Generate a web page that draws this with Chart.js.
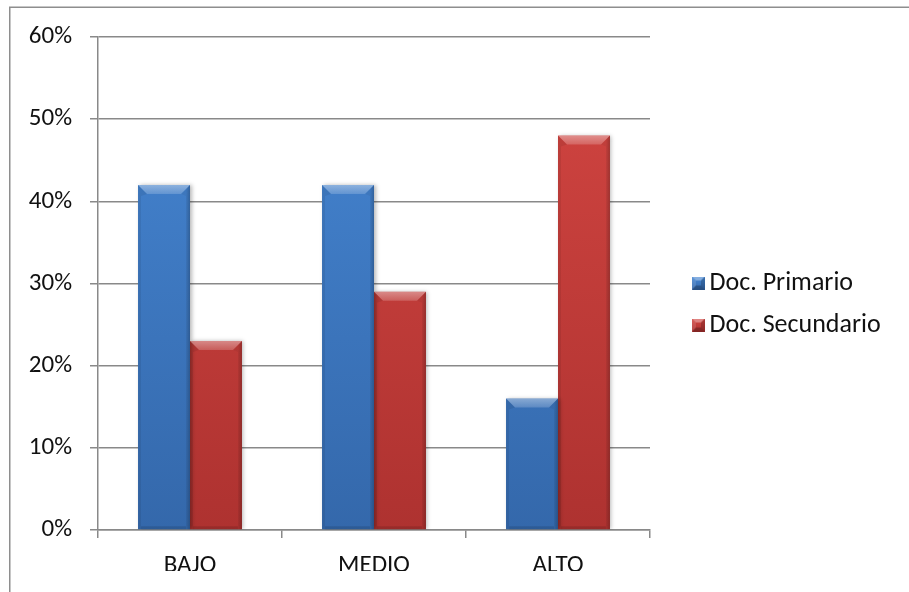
<!DOCTYPE html>
<html>
<head>
<meta charset="utf-8">
<script src="https://cdn.jsdelivr.net/npm/chart.js@4/dist/chart.umd.min.js"></script>
<style>
  html, body { margin: 0; padding: 0; background: #fff; }
  #wrap { width: 909px; height: 592px; position: relative; }
</style>
</head>
<body>
<div id="wrap"><canvas id="c" width="909" height="592"></canvas></div>
<script>
// ---- data ----
const categories = ['BAJO', 'MEDIO', 'ALTO'];
const seriesNames = ['Doc. Primario', 'Doc. Secundario'];
const primario = [42, 42, 16];
const secundario = [23, 29, 48];
const yTickValues = [0, 10, 20, 30, 40, 50, 60];

// ---- style ----
const FONT = 'Carlito, Lato, "Liberation Sans", sans-serif';
const FS = 25;
const LFS = 26;
const GRID = '#898989';
const LEG_PAD = 16;
const LEG_BOX = 1;

function makeGradient(chart, top, bottom) {
  const area = chart.chartArea;
  if (!area) return top;
  const g = chart.ctx.createLinearGradient(0, area.top, 0, area.bottom);
  g.addColorStop(0, top);
  g.addColorStop(1, bottom);
  return g;
}

function legendSwatch(c1, c2) {
  const s = 13, off = 5;
  const cv = document.createElement('canvas');
  cv.width = s + off; cv.height = s;
  const x = cv.getContext('2d');
  x.translate(off, 0);
  const g = x.createLinearGradient(0, 0, 0, s);
  g.addColorStop(0, c1); g.addColorStop(1, c2);
  x.fillStyle = g; x.fillRect(0, 0, s, s);
  const b = 4;
  x.fillStyle = 'rgba(255,255,255,0.35)';
  x.beginPath(); x.moveTo(0,0); x.lineTo(s,0); x.lineTo(s-b,b); x.lineTo(b,b); x.closePath(); x.fill();
  x.fillStyle = 'rgba(0,0,0,0.18)';
  x.beginPath(); x.moveTo(s,0); x.lineTo(s,s); x.lineTo(s-b,s-b); x.lineTo(s-b,b); x.closePath(); x.fill();
  x.fillStyle = 'rgba(0,0,0,0.25)';
  x.beginPath(); x.moveTo(0,s); x.lineTo(s,s); x.lineTo(s-b,s-b); x.lineTo(b,s-b); x.closePath(); x.fill();
  x.fillStyle = 'rgba(255,255,255,0.12)';
  x.beginPath(); x.moveTo(0,0); x.lineTo(b,b); x.lineTo(b,s-b); x.lineTo(0,s); x.closePath(); x.fill();
  return cv;
}

const seriesColors = [['#4687d4', '#3468ab'], ['#d34642', '#ae3230']];
const swatches = seriesColors.map(c => legendSwatch(c[0], c[1]));

// measure legend text to place legend
const mctx = document.createElement('canvas').getContext('2d');
mctx.font = LFS + 'px ' + FONT;
const maxTextW = Math.max(...seriesNames.map(t => mctx.measureText(t).width));
const legendLeftTarget = 678.5 + (17 - LEG_PAD);
const legendWidth = LEG_PAD + 10 + LEG_BOX + LFS / 2 + maxTextW;
const rightPad = Math.max(0, 909 - legendLeftTarget - legendWidth);

const frame = {
  id: 'frame',
  beforeDraw(chart) {
    const ctx = chart.ctx;
    ctx.save();
    ctx.fillStyle = '#fff';
    ctx.fillRect(0, 0, chart.width, chart.height);
    ctx.strokeStyle = '#8e8e8e';
    ctx.lineWidth = 1.5;
    ctx.beginPath();
    ctx.moveTo(9.75, chart.height);
    ctx.lineTo(9.75, 7.25);
    ctx.lineTo(chart.width, 7.25);
    ctx.stroke();
    ctx.restore();
  }
};

const shadow = {
  id: 'barShadow',
  beforeDatasetsDraw(chart) {
    const ctx = chart.ctx;
    ctx.save();
    ctx.shadowColor = 'rgba(0,0,0,0.28)';
    ctx.shadowBlur = 4;
    ctx.shadowOffsetX = 1.5;
    ctx.shadowOffsetY = 0;
  },
  afterDatasetsDraw(chart) {
    chart.ctx.restore();
  }
};

const bevel = {
  id: 'bevel',
  afterDatasetsDraw(chart) {
    const ctx = chart.ctx;
    chart.data.datasets.forEach((ds, i) => {
      const meta = chart.getDatasetMeta(i);
      if (meta.hidden) return;
      meta.data.forEach(el => {
        const p = el.getProps(['x', 'y', 'base', 'width'], true);
        const l = p.x - p.width / 2, r = p.x + p.width / 2;
        const t = Math.min(p.y, p.base), b = Math.max(p.y, p.base);
        const bv = Math.min(9, p.width / 4, (b - t) / 2);
        const sd = 3;
        ctx.save();
        // top bevel
        let g = ctx.createLinearGradient(0, t, 0, t + bv);
        g.addColorStop(0, 'rgba(255,255,255,0.40)');
        g.addColorStop(1, 'rgba(255,255,255,0.18)');
        ctx.fillStyle = g;
        ctx.beginPath();
        ctx.moveTo(l, t); ctx.lineTo(r, t); ctx.lineTo(r - bv, t + bv); ctx.lineTo(l + bv, t + bv);
        ctx.closePath(); ctx.fill();
        // left edge
        ctx.fillStyle = 'rgba(0,0,0,0.07)';
        ctx.beginPath();
        ctx.moveTo(l, t); ctx.lineTo(l + bv, t + bv); ctx.lineTo(l + sd, t + bv + 2); ctx.lineTo(l + sd, b); ctx.lineTo(l, b);
        ctx.closePath(); ctx.fill();
        // right edge
        g = ctx.createLinearGradient(r - sd - 1, 0, r, 0);
        g.addColorStop(0, 'rgba(0,0,0,0.05)');
        g.addColorStop(1, 'rgba(0,0,0,0.22)');
        ctx.fillStyle = g;
        ctx.beginPath();
        ctx.moveTo(r, t); ctx.lineTo(r - bv, t + bv); ctx.lineTo(r - sd - 1, t + bv + 2); ctx.lineTo(r - sd - 1, b); ctx.lineTo(r, b);
        ctx.closePath(); ctx.fill();
        // bottom edge
        ctx.fillStyle = 'rgba(0,0,0,0.12)';
        ctx.fillRect(l + sd, b - 3, r - l - 2 * sd - 1, 3);
        ctx.restore();
      });
    });
  }
};

Chart.defaults.font.family = FONT;
Chart.defaults.font.size = FS;
Chart.defaults.color = '#111';

new Chart(document.getElementById('c'), {
  type: 'bar',
  data: {
    labels: categories,
    datasets: [
      {
        label: seriesNames[0],
        data: primario,
        backgroundColor: ctx => makeGradient(ctx.chart, seriesColors[0][0], seriesColors[0][1]),
        borderWidth: 0
      },
      {
        label: seriesNames[1],
        data: secundario,
        backgroundColor: ctx => makeGradient(ctx.chart, seriesColors[1][0], seriesColors[1][1]),
        borderWidth: 0
      }
    ]
  },
  options: {
    responsive: false,
    animation: false,
    devicePixelRatio: 1,
    categoryPercentage: 0.565,
    barPercentage: 1.0,
    layout: { padding: { top: 37, bottom: 21, left: 0, right: rightPad } },
    scales: {
      x: {
        offset: true,
        grid: { display: true, offset: true, drawOnChartArea: false, drawTicks: true, tickLength: 8, color: GRID, lineWidth: 1.5 },
        border: { display: true, color: GRID, width: 1.5 },
        ticks: { padding: 13, color: '#111', font: { size: FS } },
        afterFit(s) { s.height = 41; }
      },
      y: {
        min: 0, max: 60,
        afterBuildTicks(s) { s.ticks = yTickValues.map(v => ({ value: v })); },
        grid: { color: GRID, lineWidth: 1.5, tickLength: 8 },
        border: { display: true, color: GRID, width: 1.5 },
        ticks: { padding: 18, color: '#111', font: { size: FS }, callback: v => v + '%' },
        afterFit(s) { s.width = 98; }
      },
      gap: {
        type: 'linear', position: 'right', display: true,
        grid: { display: false }, border: { display: false },
        ticks: { display: false },
        afterFit(s) { s.width = 28.5 + (17 - LEG_PAD); }
      }
    },
    plugins: {
      legend: {
        position: 'right',
        align: 'center',
        maxWidth: 400,
        labels: {
          usePointStyle: true,
          boxWidth: LEG_BOX,
          padding: LEG_PAD,
          color: '#111',
          font: { size: LFS },
          generateLabels(chart) {
            const items = Chart.defaults.plugins.legend.labels.generateLabels(chart);
            items.forEach((it, i) => { it.pointStyle = swatches[i]; });
            return items;
          }
        }
      },
      tooltip: { enabled: false }
    }
  },
  plugins: [frame, shadow, bevel]
});
</script>
</body>
</html>
